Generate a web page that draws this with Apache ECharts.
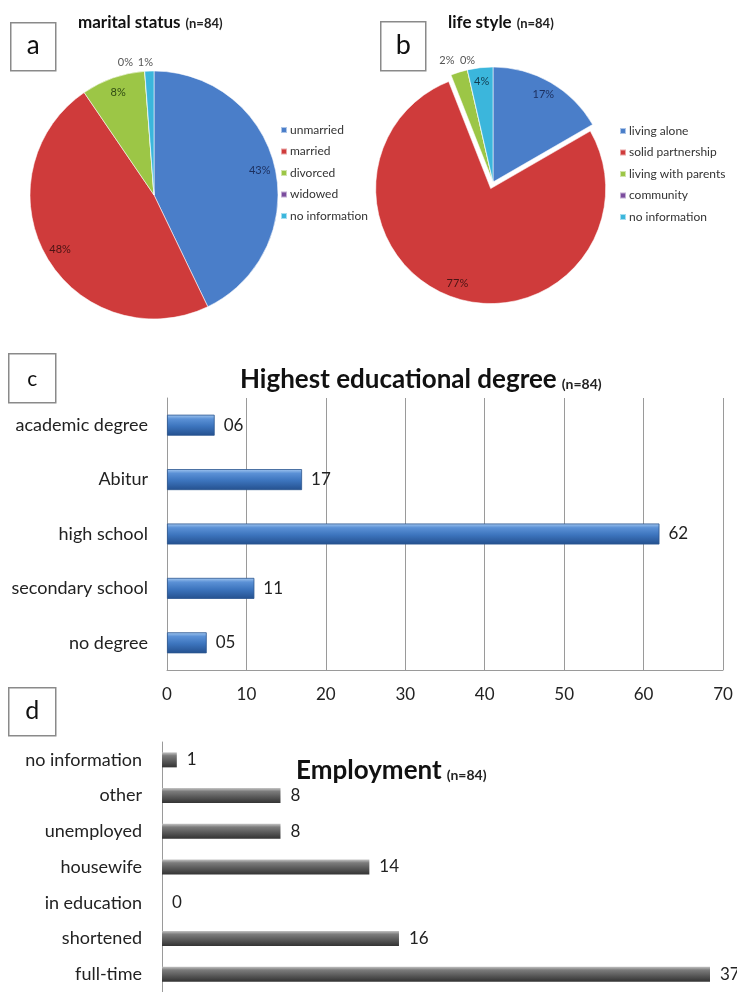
<!DOCTYPE html>
<html><head><meta charset="utf-8">
<script src="https://cdn.jsdelivr.net/npm/echarts@6/dist/echarts.min.js"></script>
<style>html,body{margin:0;padding:0;background:#fff}#c{width:737px;height:992px}</style>
</head><body><div id="c"></div>
<script>
// ---- data ----
const maritalCategories = ['unmarried', 'married', 'divorced', 'widowed', 'no information'];
const maritalValues = [36, 40, 7, 0, 1];
const lifeCategories = ['living alone', 'solid partnership', 'living with parents', 'community', 'no information'];
const lifeValues = [14, 65, 2, 0, 3];
const eduCategories = ['academic degree', 'Abitur', 'high school', 'secondary school', 'no degree'];
const eduValues = [6, 17, 62, 11, 5];
const eduTicks = [0, 10, 20, 30, 40, 50, 60, 70];
const empCategories = ['no information', 'other', 'unemployed', 'housewife', 'in education', 'shortened', 'full-time'];
const empValues = [1, 8, 8, 14, 0, 16, 37];

// ---- styles ----
const FONT = 'Lato';
const pieColors = ['#4a7ec9', '#cf3b3b', '#9cc646', '#7b4d9e', '#3bb6dc'];
const insideLabelColors = ['#1c2f5e', '#4a1414', '#2f4a12', '#333', '#123d52'];

// per-item label placement for the label ring (style only)
const maritalLabelCfg = [
  {pos: 'inside'}, {pos: 'inside'}, {pos: 'inside'},
  {pos: 'outside', l: 9, l2: 11},
  {pos: 'outside', l: 9, l2: -4}
];
const lifeLabelCfg = [
  {pos: 'inside'}, {pos: 'inside'},
  {pos: 'outside', l: 12, l2: 1},
  {pos: 'outside', l: 10, l2: -10},
  {pos: 'inside'}
];

function mainPieData(cats, vals, selIdx) {
  return cats.map((n, i) => ({
    name: n, value: vals[i], selected: i === selIdx,
    itemStyle: {color: pieColors[i]}
  }));
}
function ringPieData(cats, vals, cfg, selIdx) {
  return cats.map((n, i) => {
    const c = cfg[i];
    const o = {name: n, value: vals[i], selected: i === selIdx, itemStyle: {color: 'rgba(0,0,0,0)', borderWidth: 0}};
    if (c.pos === 'inside') {
      o.label = {position: 'inside', color: insideLabelColors[i]};
    } else {
      o.label = {position: 'outside', color: '#555', distanceToLabelLine: 0};
      o.labelLine = {show: false, length: c.l, length2: c.l2};
    }
    return o;
  });
}

const pieA = {c: [154, 195], r: 124};
const pieB = {c: [493, 182], r: 115};

function mainPie(p, data) {
  return {
    type: 'pie', center: p.c, radius: [0, p.r], startAngle: 90, clockwise: true,
    selectedMode: 'single', selectedOffset: 7, avoidLabelOverlap: false,
    label: {show: false}, labelLine: {show: false},
    itemStyle: {borderColor: 'rgba(255,255,255,0.55)', borderWidth: 1},
    emphasis: {disabled: true}, silent: true,
    data: data
  };
}
function ringPie(p, data) {
  return {
    type: 'pie', center: p.c, radius: [p.r * 0.7, p.r], startAngle: 90, clockwise: true,
    selectedMode: 'single', selectedOffset: 7, avoidLabelOverlap: false,
    percentPrecision: 0, silent: true, z: 5,
    label: {show: true, formatter: '{d}%', fontFamily: FONT, fontSize: 11},
    labelLine: {show: false},
    emphasis: {disabled: true},
    data: data
  };
}

const barLabel = {fontFamily: FONT, fontSize: 17, color: '#222'};
const richTitle = (big, small) => ({rich: {
  b: {fontFamily: FONT, fontWeight: 'bold', fontSize: big, color: '#111', verticalAlign: 'bottom'},
  s: {fontFamily: FONT, fontWeight: 'bold', fontSize: small, color: '#222', verticalAlign: 'bottom', padding: [0, 0, Math.round(big * 0.08), 0]}
}});
const legendText = {fontFamily: FONT, fontSize: 12, color: '#333', padding: [0, 0, 0, -2]};

const option = {
  animation: false,
  backgroundColor: '#fff',
  title: [
    {left: 78, top: 13, padding: 0, text: '{b|marital status} {s|(n=84)}', textStyle: richTitle(17, 13)},
    {left: 448, top: 13, padding: 0, text: '{b|life style} {s|(n=84)}', textStyle: richTitle(17, 13)},
    {left: 240, top: 367, padding: 0, text: '{b|Highest educational degree} {s|(n=84)}', textStyle: richTitle(26, 14)},
    {left: 296, top: 758, padding: 0, text: '{b|Employment} {s|(n=84)}', textStyle: richTitle(26, 14)}
  ],
  legend: [
    {orient: 'vertical', left: 280, top: 124, padding: 0, itemWidth: 6, itemHeight: 6, itemGap: 9.5, icon: 'rect',
     data: maritalCategories, selectedMode: false, textStyle: legendText},
    {orient: 'vertical', left: 619, top: 125, padding: 0, itemWidth: 6, itemHeight: 6, itemGap: 9.5, icon: 'rect',
     data: lifeCategories, selectedMode: false, textStyle: legendText}
  ],
  grid: [
    {left: 167, top: 398, width: 556, height: 272, containLabel: false},
    {left: 162, top: 742, right: 27, height: 256, containLabel: false}
  ],
  xAxis: [
    {gridIndex: 0, type: 'value', min: eduTicks[0], max: eduTicks[eduTicks.length - 1], interval: eduTicks[1] - eduTicks[0],
     axisLine: {show: true, lineStyle: {color: '#9a9a9a'}}, axisTick: {show: false},
     splitLine: {show: true, lineStyle: {color: '#9a9a9a', width: 1}},
     axisLabel: {fontFamily: FONT, fontSize: 17, color: '#222', margin: 16}},
    {gridIndex: 1, type: 'value', min: 0, max: 'dataMax', show: false, splitLine: {show: false}}
  ],
  yAxis: [
    {gridIndex: 0, type: 'category', inverse: true, data: eduCategories,
     axisLine: {show: true, lineStyle: {color: '#9a9a9a'}}, axisTick: {show: false},
     axisLabel: {fontFamily: FONT, fontSize: 18, color: '#222', margin: 19}},
    {gridIndex: 1, type: 'category', inverse: true, data: empCategories,
     axisLine: {show: true, lineStyle: {color: '#9a9a9a'}}, axisTick: {show: false},
     axisLabel: {fontFamily: FONT, fontSize: 18, color: '#222', margin: 20}}
  ],
  series: [
    mainPie(pieA, mainPieData(maritalCategories, maritalValues, -1)),
    mainPie(pieB, mainPieData(lifeCategories, lifeValues, 1)),
    ringPie(pieA, ringPieData(maritalCategories, maritalValues, maritalLabelCfg, -1)),
    ringPie(pieB, ringPieData(lifeCategories, lifeValues, lifeLabelCfg, 1)),
    {type: 'bar', name: 'education', xAxisIndex: 0, yAxisIndex: 0, data: eduValues, barWidth: 21,
     silent: true, emphasis: {disabled: true},
     itemStyle: {borderColor: '#2b568f', borderWidth: 0.8,
       color: {type: 'linear', x: 0, y: 0, x2: 0, y2: 1, colorStops: [
         {offset: 0, color: '#a4c8f0'}, {offset: 0.2, color: '#5b91d6'}, {offset: 0.55, color: '#3c74bd'}, {offset: 1, color: '#24508e'}]}},
     label: Object.assign({show: true, position: 'right', distance: 9,
       formatter: p => String(p.value).padStart(2, '0')}, barLabel)},
    {type: 'bar', name: 'employment', xAxisIndex: 1, yAxisIndex: 1, data: empValues, barWidth: 15,
     silent: true, emphasis: {disabled: true},
     itemStyle: {borderWidth: 0,
       color: {type: 'linear', x: 0, y: 0, x2: 0, y2: 1, colorStops: [
         {offset: 0, color: '#c4c4c4'}, {offset: 0.22, color: '#7c7c7c'}, {offset: 0.6, color: '#585858'}, {offset: 1, color: '#333'}]}},
     label: Object.assign({show: true, position: 'right', distance: 10}, barLabel)}
  ],
  graphic: [
    {type: 'group', left: 10, top: 22, children: [
      {type: 'rect', shape: {x: 0, y: 0, width: 45, height: 48}, style: {fill: '#fff', stroke: '#8a8a8a', lineWidth: 1.5}},
      {type: 'text', x: 22.5, y: 23, style: {text: 'a', fontFamily: FONT, fontSize: 26, fill: '#111', align: 'center', verticalAlign: 'middle'}}]},
    {type: 'group', left: 380, top: 21, children: [
      {type: 'rect', shape: {x: 0, y: 0, width: 45, height: 49}, style: {fill: '#fff', stroke: '#8a8a8a', lineWidth: 1.5}},
      {type: 'text', x: 22.5, y: 24, style: {text: 'b', fontFamily: FONT, fontSize: 27, fill: '#111', align: 'center', verticalAlign: 'middle'}}]},
    {type: 'group', left: 8, top: 353, children: [
      {type: 'rect', shape: {x: 0, y: 0, width: 47, height: 49}, style: {fill: '#fff', stroke: '#8a8a8a', lineWidth: 1.5}},
      {type: 'text', x: 23.5, y: 25, style: {text: 'c', fontFamily: FONT, fontSize: 21, fill: '#111', align: 'center', verticalAlign: 'middle'}}]},
    {type: 'group', left: 8, top: 687, children: [
      {type: 'rect', shape: {x: 0, y: 0, width: 47, height: 48}, style: {fill: '#fff', stroke: '#8a8a8a', lineWidth: 1.5}},
      {type: 'text', x: 23.5, y: 23, style: {text: 'd', fontFamily: FONT, fontSize: 25, fill: '#111', align: 'center', verticalAlign: 'middle'}}]}
  ]
};

const chart = echarts.init(document.getElementById('c'), null, {renderer: 'canvas'});
chart.setOption(option);
</script>
</body></html>
